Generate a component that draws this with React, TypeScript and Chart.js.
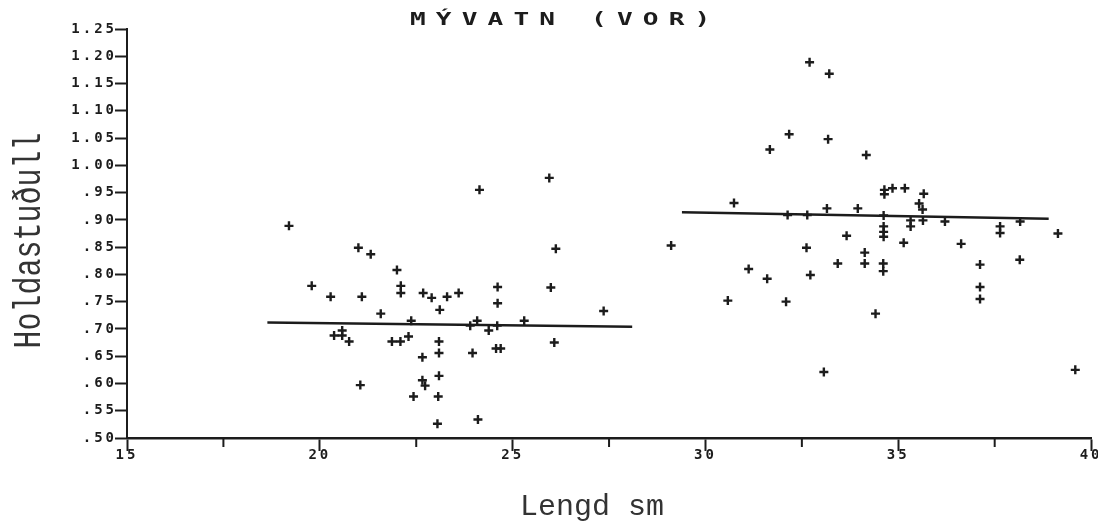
import React, { useEffect, useRef } from "react";
import { Chart, registerables } from "chart.js";

Chart.register(...registerables);

const chartTitle = "MÝVATN (VOR)";
const xAxisTitle = "Lengd sm";
const yAxisTitle = "Holdastuðull";

const xTickLabels = ["15", "20", "25", "30", "35", "40"];
const yTickLabels = [".50", ".55", ".60", ".65", ".70", ".75", ".80", ".85", ".90", ".95", "1.00", "1.05", "1.10", "1.15", "1.20", "1.25"];

const smallX = [19.20, 19.79, 20.28, 21.00, 21.32, 21.09, 21.58, 22.00, 22.10, 22.10, 22.68, 22.90, 23.11, 23.30, 23.60, 24.14, 22.37, 20.37, 20.58, 20.58, 20.76, 21.87, 22.09, 22.30, 21.05, 22.66, 23.09, 23.09, 23.09, 22.66, 22.73, 22.43, 23.07, 23.05, 23.90, 23.96, 24.10, 25.95, 26.12, 24.61, 25.99, 24.61, 27.36, 24.08, 24.38, 24.60, 25.30, 24.57, 24.69, 26.08];
const smallY = [0.889, 0.779, 0.759, 0.849, 0.837, 0.759, 0.728, 0.808, 0.779, 0.766, 0.766, 0.757, 0.735, 0.759, 0.766, 0.955, 0.715, 0.688, 0.697, 0.688, 0.677, 0.677, 0.677, 0.686, 0.597, 0.648, 0.677, 0.656, 0.614, 0.606, 0.596, 0.576, 0.576, 0.526, 0.706, 0.656, 0.534, 0.977, 0.847, 0.777, 0.776, 0.747, 0.733, 0.715, 0.697, 0.706, 0.715, 0.664, 0.664, 0.675];

const largeX = [32.70, 33.21, 32.17, 31.67, 33.18, 34.17, 30.74, 32.13, 32.64, 33.15, 33.95, 29.11, 32.62, 33.66, 34.13, 34.13, 33.43, 31.12, 31.60, 32.72, 30.58, 32.09, 33.07, 34.64, 34.64, 34.85, 35.17, 35.66, 35.54, 35.63, 34.62, 34.62, 34.62, 34.62, 35.32, 35.32, 35.64, 36.21, 37.64, 37.64, 38.16, 39.14, 35.14, 36.63, 34.61, 34.61, 37.12, 37.12, 37.12, 38.15, 34.41, 39.59];
const largeY = [1.189, 1.168, 1.057, 1.029, 1.048, 1.019, 0.931, 0.909, 0.909, 0.921, 0.921, 0.853, 0.849, 0.871, 0.840, 0.820, 0.820, 0.810, 0.792, 0.799, 0.752, 0.750, 0.621, 0.955, 0.947, 0.958, 0.958, 0.948, 0.930, 0.919, 0.908, 0.888, 0.878, 0.869, 0.899, 0.888, 0.899, 0.897, 0.888, 0.876, 0.897, 0.875, 0.858, 0.856, 0.820, 0.806, 0.818, 0.777, 0.755, 0.827, 0.728, 0.625];

const smallLineX = [18.64, 28.10];
const smallLineY = [0.712, 0.704];
const largeLineX = [29.39, 38.90];
const largeLineY = [0.914, 0.902];

const INK = "#1c1c1c";

const toPoints = (xs: number[], ys: number[]) => xs.map((x, i) => ({ x, y: ys[i] }));

export default function App() {
  const ref = useRef<HTMLCanvasElement | null>(null);

  useEffect(() => {
    if (!ref.current) return;

    const decor = {
      id: "decor",
      beforeDraw(chart: any) {
        chart.ctx.letterSpacing = "3px";
      },
      afterDraw(chart: any) {
        const ctx = chart.ctx;
        ctx.letterSpacing = "0px";
        // minor x ticks (shorter)
        const xs = chart.scales.x;
        ctx.save();
        ctx.strokeStyle = INK;
        ctx.lineWidth = 2;
        xs.ticks.forEach((t: any) => {
          if (Math.abs(t.value % 5) > 1e-6) {
            const px = xs.getPixelForValue(t.value);
            ctx.beginPath();
            ctx.moveTo(px, xs.top);
            ctx.lineTo(px, xs.top + 9);
            ctx.stroke();
          }
        });
        ctx.restore();

        // title
        ctx.save();
        ctx.fillStyle = INK;
        ctx.font = 'bold 18px "DejaVu Sans Mono"';
        ctx.textBaseline = "alphabetic";
        ctx.textAlign = "left";
        ctx.translate(410, 25);
        ctx.scale(1.45, 1);
        ctx.letterSpacing = "7px";
        ctx.fillText(chartTitle, 0, 0);
        ctx.restore();

        // x axis title
        ctx.save();
        ctx.fillStyle = "#333";
        ctx.letterSpacing = "0px";
        ctx.font = '30px "Liberation Mono"';
        ctx.textAlign = "center";
        ctx.textBaseline = "alphabetic";
        ctx.fillText(xAxisTitle, (chart.chartArea.left + chart.chartArea.right) / 2 - 17, 515);
        ctx.restore();

        // y axis title
        ctx.save();
        ctx.fillStyle = "#333";
        ctx.letterSpacing = "0px";
        ctx.font = '30px "Liberation Mono"';
        ctx.textAlign = "center";
        ctx.textBaseline = "alphabetic";
        ctx.translate(40, (chart.chartArea.top + chart.chartArea.bottom) / 2 + 7);
        ctx.rotate(-Math.PI / 2);
        ctx.scale(1, 1.3);
        ctx.fillText(yAxisTitle, 0, 0);
        ctx.restore();
      },
    };

    const chart = new Chart(ref.current, {
      type: "scatter",
      data: {
        datasets: [
          {
            data: toPoints(smallX, smallY),
            pointStyle: "cross",
            pointRadius: 4.5,
            borderWidth: 2.4,
            borderColor: INK,
            backgroundColor: INK,
          },
          {
            data: toPoints(largeX, largeY),
            pointStyle: "cross",
            pointRadius: 4.5,
            borderWidth: 2.4,
            borderColor: INK,
            backgroundColor: INK,
          },
          {
            data: toPoints(smallLineX, smallLineY),
            showLine: true,
            pointRadius: 0,
            borderWidth: 2.5,
            borderColor: INK,
          },
          {
            data: toPoints(largeLineX, largeLineY),
            showLine: true,
            pointRadius: 0,
            borderWidth: 2.5,
            borderColor: INK,
          },
        ],
      },
      options: {
        animation: false,
        responsive: false,
        layout: { padding: { top: 29, left: 0, right: 6, bottom: 0 } },
        plugins: {
          legend: { display: false },
          title: { display: false },
          tooltip: { enabled: false },
        },
        scales: {
          x: {
            type: "linear",
            min: 15,
            max: 40,
            afterFit: (s: any) => {
              s.height = 91;
              s.paddingLeft = 0;
              s.paddingRight = 0;
            },
            border: { display: true, color: INK, width: 2.5 },
            grid: {
              drawOnChartArea: false,
              drawTicks: true,
              tickLength: 13,
              tickWidth: 2,
              tickColor: (c: any) => (c.tick && Math.abs(c.tick.value % 5) > 1e-6 ? "rgba(0,0,0,0)" : INK),
            },
            ticks: {
              stepSize: 2.5,
              autoSkip: false,
              maxRotation: 0,
              padding: -4,
              color: INK,
              font: { family: '"DejaVu Sans Mono"', size: 14, weight: "bold" },
              callback: (v: any) => {
                const n = Number(v);
                if (Math.abs(n % 5) > 1e-6) return "";
                const idx = Math.round((n - 15) / 5);
                return xTickLabels[idx] ?? "";
              },
            },
          },
          y: {
            type: "linear",
            min: 0.5,
            max: 1.25,
            afterFit: (s: any) => {
              s.width = 127;
              s.paddingTop = 0;
              s.paddingBottom = 0;
            },
            border: { display: true, color: INK, width: 2 },
            grid: {
              drawOnChartArea: false,
              drawTicks: true,
              tickLength: 12,
              tickWidth: 2,
              tickColor: INK,
            },
            ticks: {
              stepSize: 0.05,
              autoSkip: false,
              padding: -2,
              color: INK,
              font: { family: '"DejaVu Sans Mono"', size: 14, weight: "bold" },
              callback: (v: any) => {
                const idx = Math.round((Number(v) - 0.5) / 0.05);
                return yTickLabels[idx] ?? "";
              },
            },
          },
        },
      },
      plugins: [decor],
    } as any);

    return () => chart.destroy();
  }, []);

  return (
    <div style={{ position: "absolute", left: 0, top: 0, width: 1098, height: 529, background: "#fff" }}>
      <canvas ref={ref} width={1098} height={529} style={{ display: "block" }} />
    </div>
  );
}
